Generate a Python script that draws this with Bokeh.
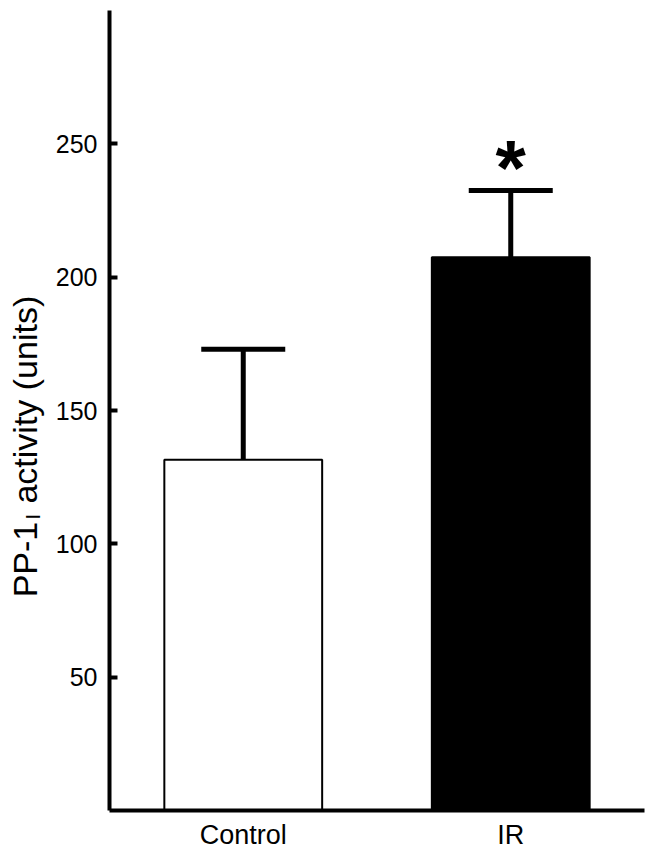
import math
from bokeh.plotting import figure
from bokeh.layouts import row
from bokeh.models import (ColumnDataSource, FactorRange, FixedTicker, Whisker,
                          TeeHead, Range1d)
from bokeh.core.properties import value
from bokeh.embed import file_html
from bokeh.resources import INLINE

# ---- data ----
categories = ["Control", "IR"]
means = [131.5, 207.5]
sem = [41.5, 25.0]
bar_fill = ["white", "black"]
y_ticks = [50, 100, 150, 200, 250]
significance = ["", "*"]
y_label_parts = ["PP-1", "I", "activity (units)"]

upper = [m + s for m, s in zip(means, sem)]

src = ColumnDataSource(dict(cat=categories, mean=means, upper=upper,
                            fill=bar_fill, sig=significance))

FONT = "Liberation Sans"
H = 852
LW = 50           # width of the strip holding the y-axis title
W = 646 - LW

p = figure(width=W, height=H, x_range=FactorRange(*categories, range_padding=0),
           y_range=(0, 300), output_backend="svg", toolbar_location=None,
           min_border_left=109 - LW, min_border_right=2, min_border_top=10,
           min_border_bottom=41)
p.outline_line_color = None
p.xgrid.visible = False
p.ygrid.visible = False
p.background_fill_color = "white"
p.border_fill_color = "white"

p.vbar(x="cat", top="mean", width=0.59, source=src, fill_color="fill",
       line_color="black", line_width=2)

wh = Whisker(base="cat", upper="upper", lower="mean", source=src,
             upper_head=TeeHead(size=84, line_width=5, line_color="black"),
             lower_head=None, line_width=5, line_color="black")
p.add_layout(wh)

p.text(x="cat", y="upper", text="sig", source=src, text_font=value(FONT),
       text_font_style="bold", text_font_size="78px", text_align="center",
       text_baseline="alphabetic", y_offset=-23, text_color="black")

# y axis
ya = p.yaxis[0]
ya.ticker = FixedTicker(ticks=y_ticks)
ya.axis_line_width = 4
ya.major_tick_line_width = 4
ya.major_tick_in = 8
ya.major_tick_out = 0
ya.minor_tick_line_color = None
ya.major_label_text_font = FONT
ya.major_label_text_font_size = "25px"
ya.major_label_text_color = "black"
ya.major_label_standoff = 12
ya.axis_label = None

# x axis
xa = p.xaxis[0]
xa.axis_line_width = 4
xa.major_tick_line_color = None
xa.major_tick_in = 0
xa.major_tick_out = 0
xa.minor_tick_line_color = None
xa.major_label_text_font = FONT
xa.major_label_text_font_size = "27px"
xa.major_label_text_color = "black"
xa.major_label_standoff = 9

# ---- strip with the rotated y-axis title (pixel coordinates) ----
lab = figure(width=LW, height=H, x_range=Range1d(0, LW), y_range=Range1d(0, H),
             x_axis_type=None, y_axis_type=None, output_backend="svg",
             toolbar_location=None, min_border=0)
lab.outline_line_color = None
lab.xgrid.visible = False
lab.ygrid.visible = False

F = 34
FS = 21
x0 = 24
y0 = 227
w_pp1 = 2.223 * F
w_sub = 0.278 * FS
w_space = 0.278 * F
lab_src = ColumnDataSource(dict(
    x=[x0, x0 + 8, x0],
    y=[y0, y0 + w_pp1 + 7, y0 + w_pp1 + w_sub + 9 + w_space],
    t=y_label_parts,
    size=[f"{F}px", f"{FS}px", f"{F}px"],
))
lab.text(x="x", y="y", text="t", source=lab_src, angle=math.pi / 2,
         text_font=value(FONT), text_font_size="size", text_align="left",
         text_baseline="middle", text_color="black")

layout = row(lab, p, spacing=0)
open("out.html", "w").write(file_html(layout, INLINE))
